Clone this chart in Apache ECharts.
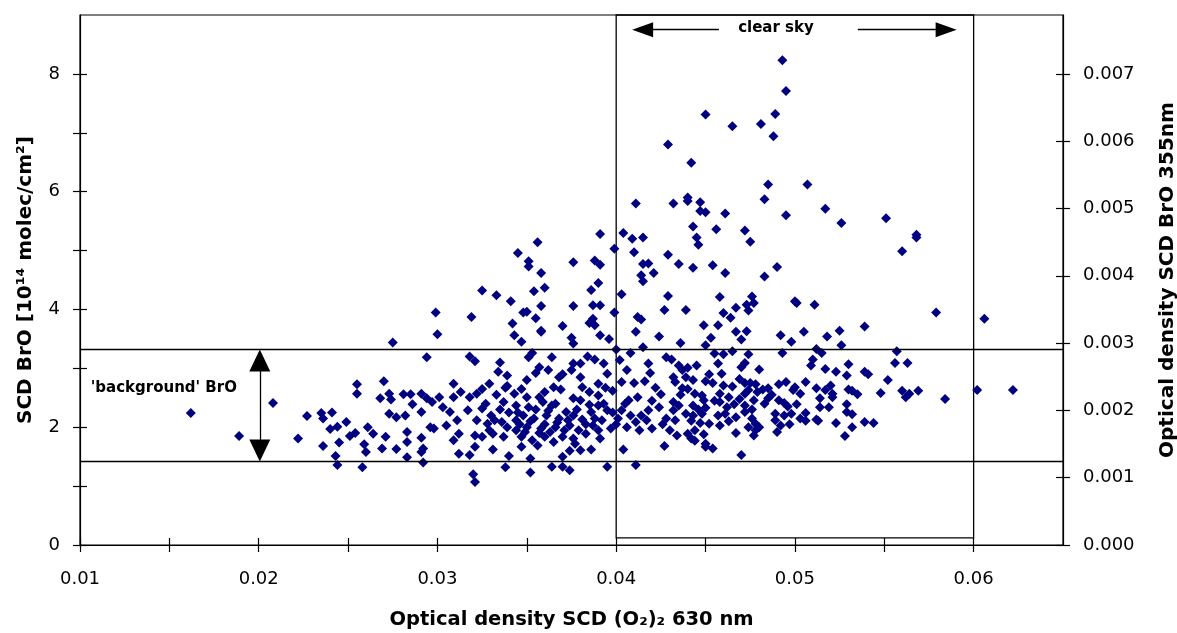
<!DOCTYPE html>
<html>
<head>
<meta charset="utf-8">
<script src="https://cdn.jsdelivr.net/npm/echarts@6/dist/echarts.min.js"></script>
<style>
html,body{margin:0;padding:0;background:#fff;overflow:hidden;}
#chart{width:1177px;height:633px;}
</style>
</head>
<body>
<div id="chart"></div>
<script>
// ---- data: [O2O2 optical density, SCD BrO (1e14 molec/cm2)] ----
const pointsLeft = [
[0.0162,2.24],[0.0189,1.85],[0.0208,2.41],[0.0227,2.19],[0.0222,1.81],[0.0235,2.24],[0.0236,2.15],[0.0241,2.25],
[0.0255,2.73],[0.0255,2.57],[0.0249,2.09],[0.0240,1.97],[0.0244,2.01],[0.0245,1.74],[0.0236,1.68],[0.0243,1.51],
[0.0244,1.36],[0.0258,1.32],[0.0251,1.85],[0.0254,1.90],[0.0259,1.71],[0.0260,1.58],[0.0261,2.00]
];
const pointsMidLeft = [
[0.0300,3.58],[0.0343,3.56],[0.0275,3.44],[0.0294,3.19],[0.0318,3.20],[0.0321,3.12],[0.0335,3.10],[0.0334,2.94],
[0.0339,2.88],[0.0270,2.78],[0.0309,2.74],[0.0329,2.74],[0.0325,2.65],[0.0338,2.67],[0.0273,2.57],[0.0268,2.49],
[0.0274,2.47],[0.0281,2.56],[0.0285,2.56],[0.0291,2.57],[0.0294,2.49],[0.0297,2.43],[0.0301,2.51],[0.0309,2.51],
[0.0313,2.60],[0.0318,2.51],[0.0322,2.57],[0.0286,2.39],[0.0303,2.34],[0.0282,2.20],[0.0273,2.23],[0.0277,2.17],
[0.0291,2.26],[0.0307,2.26],[0.0317,2.29],[0.0325,2.32],[0.0337,2.43],[0.0343,2.57],[0.0344,2.37],[0.0322,2.12],
[0.0311,2.12],[0.0305,2.03],[0.0296,2.00],[0.0298,1.98],[0.0328,2.06],[0.0332,2.12],[0.0336,2.09],[0.0264,1.89],
[0.0271,1.84],[0.0283,1.92],[0.0283,1.75],[0.0291,1.82],[0.0309,1.78],[0.0312,1.89],[0.0321,1.86],[0.0325,1.84],
[0.0331,1.89],[0.0337,1.84],[0.0269,1.64],[0.0277,1.63],[0.0291,1.58],[0.0292,1.64],[0.0312,1.55],[0.0318,1.53],
[0.0321,1.67],[0.0331,1.62],[0.0283,1.49],[0.0292,1.40],[0.0340,1.51],[0.0338,1.32],[0.0320,1.20],[0.0321,1.07],
[0.0344,2.12],[0.0344,1.95]
];
const pointsMid = [
[0.0358,3.62],[0.0375,3.52],[0.0376,3.42],[0.0391,3.56],[0.0396,3.50],[0.0411,3.62],[0.0424,3.54],[0.0347,3.45],
[0.0353,3.26],[0.0351,3.19],[0.0364,3.19],[0.0384,3.20],[0.0388,3.15],[0.0400,3.32],[0.0402,3.14],[0.0408,3.26],
[0.0415,3.36],[0.0428,3.19],[0.0418,3.08],[0.0357,3.02],[0.0355,2.92],[0.0362,2.97],[0.0376,3.08],[0.0380,3.08],
[0.0393,3.08],[0.0395,2.91],[0.0406,2.97],[0.0419,2.92],[0.0370,2.90],[0.0375,2.97],[0.0380,2.85],[0.0350,2.80],
[0.0365,2.68],[0.0369,2.64],[0.0381,2.68],[0.0390,2.74],[0.0394,2.67],[0.0403,2.77],[0.0410,2.75],[0.0416,2.78],
[0.0422,2.67],[0.0425,2.56],[0.0347,2.65],[0.0350,2.51],[0.0357,2.51],[0.0376,2.49],[0.0380,2.46],[0.0390,2.54],
[0.0407,2.46],[0.0412,2.51],[0.0351,2.34],[0.0359,2.43],[0.0364,2.37],[0.0372,2.26],[0.0386,2.26],[0.0390,2.37],
[0.0395,2.29],[0.0403,2.29],[0.0408,2.20],[0.0418,2.29],[0.0424,2.34],[0.0348,2.20],[0.0354,2.15],[0.0361,2.20],
[0.0368,2.15],[0.0376,2.20],[0.0381,2.13],[0.0392,2.12],[0.0401,2.15],[0.0411,2.09],[0.0417,2.12],[0.0428,2.15],
[0.0350,2.00],[0.0358,1.98],[0.0366,2.00],[0.0374,2.03],[0.0379,1.95],[0.0387,2.03],[0.0390,1.95],[0.0397,1.98],
[0.0406,2.00],[0.0413,1.95],[0.0420,1.98],[0.0347,1.84],[0.0353,1.78],[0.0360,1.84],[0.0365,1.75],[0.0370,1.84],
[0.0376,1.81],[0.0383,1.89],[0.0391,1.81],[0.0377,1.72],[0.0347,1.67],[0.0356,1.69],[0.0374,1.60],[0.0380,1.61],
[0.0386,1.62],[0.0370,1.50],[0.0404,1.62],[0.0427,1.68],[0.0352,1.47],[0.0364,1.33],[0.0370,1.33],[0.0374,1.27],
[0.0395,1.33],[0.0411,1.36],[0.0352,1.23]
];
const pointsMidRight = [
[0.0453,3.52],[0.0467,3.62],[0.0473,3.63],[0.0470,3.49],[0.0492,3.56],[0.0505,3.62],[0.0498,3.45],[0.0436,3.43],
[0.0450,3.39],[0.0455,3.25],[0.0460,3.24],[0.0465,3.29],[0.0474,3.24],[0.0493,3.26],[0.0512,3.33],[0.0510,3.15],
[0.0509,3.05],[0.0431,3.15],[0.0457,3.08],[0.0459,2.91],[0.0470,3.02],[0.0472,3.09],[0.0480,2.98],[0.0435,3.05],
[0.0440,3.01],[0.0445,3.05],[0.0437,2.97],[0.0432,2.85],[0.0433,2.77],[0.0439,2.85],[0.0443,2.80],[0.0450,2.78],
[0.0454,2.75],[0.0460,2.71],[0.0465,2.69],[0.0469,2.82],[0.0472,2.75],[0.0475,2.75],[0.0478,2.73],[0.0474,2.63],
[0.0479,2.60],[0.0482,2.64],[0.0485,2.66],[0.0491,2.73],[0.0495,2.77],[0.0500,2.68],[0.0506,2.77],[0.0503,2.57],
[0.0499,2.63],[0.0512,2.66],[0.0437,2.66],[0.0444,2.57],[0.0448,2.54],[0.0458,2.57],[0.0463,2.51],[0.0472,2.57],
[0.0477,2.46],[0.0485,2.49],[0.0491,2.46],[0.0494,2.41],[0.0501,2.39],[0.0432,2.43],[0.0435,2.37],[0.0443,2.37],
[0.0449,2.46],[0.0450,2.33],[0.0458,2.43],[0.0462,2.34],[0.0466,2.39],[0.0472,2.37],[0.0432,2.29],[0.0439,2.23],
[0.0443,2.20],[0.0448,2.23],[0.0457,2.20],[0.0461,2.23],[0.0467,2.17],[0.0472,2.26],[0.0489,2.23],[0.0494,2.20],
[0.0498,2.23],[0.0506,2.24],[0.0512,2.13],[0.0506,2.11],[0.0433,2.12],[0.0442,2.11],[0.0447,2.07],[0.0452,2.06],
[0.0458,2.03],[0.0476,2.15],[0.0478,2.06],[0.0474,2.00],[0.0480,2.00],[0.0489,2.12],[0.0492,2.03],[0.0430,1.95],
[0.0434,1.86],[0.0440,1.89],[0.0444,1.95],[0.0449,1.88],[0.0467,1.90],[0.0477,1.86],[0.0490,1.92],[0.0442,1.81],
[0.0444,1.77],[0.0450,1.72],[0.0450,1.67],[0.0454,1.64],[0.0470,1.53]
];
const pointsDenseCore = [
[0.0345,2.25],[0.0346,2.05],[0.0349,1.92],[0.0352,2.10],[0.0355,2.30],[0.0357,1.90],[0.0360,2.05],[0.0362,2.28],
[0.0363,1.92],[0.0366,2.40],[0.0367,2.08],[0.0371,1.95],[0.0373,2.12],[0.0378,2.30],[0.0383,2.05],[0.0385,2.38],
[0.0388,2.15],[0.0393,2.40],[0.0398,2.25],[0.0400,2.05],[0.0340,2.25],[0.0335,2.30],[0.0330,2.20],[0.0327,2.40],
[0.0333,2.55],[0.0339,2.70],[0.0339,2.00],[0.0329,1.95],[0.0405,2.40],[0.0414,2.20],[0.0420,2.45],[0.0426,2.05],
[0.0436,2.55],[0.0446,2.30],[0.0455,2.45],[0.0463,2.10],[0.0469,2.48],[0.0476,2.30],[0.0478,1.95],[0.0483,2.40],
[0.0487,2.55],[0.0496,2.35],[0.0503,2.15],[0.0497,2.05],[0.0440,2.65],[0.0452,2.90],[0.0368,2.85],[0.0360,2.60],
[0.0385,2.60],[0.0398,2.62]
];
const pointsRight = [
[0.0560,4.99],[0.0579,3.95],[0.0606,3.84],[0.0539,3.71],[0.0518,3.54],[0.0525,3.64],[0.0526,3.39],[0.0515,3.26],
[0.0557,3.29],[0.0556,3.09],[0.0563,3.09],[0.0530,3.07],[0.0517,2.99],[0.0523,2.94],[0.0529,2.88],[0.0539,2.94],
[0.0541,2.90],[0.0552,2.80],[0.0520,2.71],[0.0517,2.63],[0.0521,2.57],[0.0530,2.64],[0.0532,2.62],[0.0535,2.56],
[0.0548,2.58],[0.0560,2.62],[0.0562,2.51],[0.0564,2.57],[0.0569,2.62],[0.0584,2.48],[0.0602,2.63],[0.0622,2.63],
[0.0521,2.51],[0.0529,2.39],[0.0529,2.26],[0.0532,2.22],[0.0514,2.49],[0.0514,2.34],[0.0519,2.34],[0.0513,2.11],
[0.0523,2.07],[0.0532,2.00],[0.0539,2.09],[0.0544,2.07],[0.0528,1.85]
];
const pointsUpper = [
[0.0391,5.28],[0.0356,5.14],[0.0399,5.03],[0.0345,4.96],[0.0351,4.82],[0.0351,4.73],[0.0376,4.80],[0.0388,4.83],
[0.0391,4.76],[0.0358,4.62],[0.0390,4.45],[0.0386,4.33],[0.0325,4.32],[0.0333,4.24],[0.0360,4.37],[0.0354,4.31],
[0.0341,4.14],[0.0358,4.06],[0.0376,4.06],[0.0387,4.07],[0.0391,4.07],[0.0299,3.95],[0.0319,3.87],[0.0348,3.95],
[0.0350,3.96],[0.0355,3.85],[0.0342,3.76],[0.0370,3.72],[0.0385,3.77],[0.0387,3.84],[0.0388,3.73],[0.0399,3.95],
[0.0358,3.64],
[0.0493,8.23],[0.0495,7.71],[0.0450,7.31],[0.0489,7.32],[0.0465,7.11],[0.0481,7.15],[0.0488,6.94],[0.0429,6.80],
[0.0442,6.49],[0.0485,6.12],[0.0507,6.12],[0.0483,5.87],[0.0411,5.80],[0.0432,5.80],[0.0440,5.90],[0.0440,5.84],
[0.0447,5.82],[0.0447,5.67],[0.0450,5.65],[0.0461,5.63],[0.0495,5.60],[0.0517,5.71],[0.0526,5.47],[0.0551,5.55],
[0.0443,5.41],[0.0456,5.36],[0.0472,5.34],[0.0475,5.15],[0.0445,5.22],[0.0446,5.10],[0.0404,5.30],[0.0409,5.20],
[0.0415,5.22],[0.0410,4.97],[0.0429,4.93],[0.0435,4.77],[0.0443,4.71],[0.0454,4.75],[0.0461,4.62],[0.0490,4.72],
[0.0483,4.56],[0.0568,5.27],[0.0568,5.22],[0.0415,4.77],[0.0418,4.78],[0.0421,4.62],[0.0414,4.58],
[0.0415,4.48],[0.0403,4.26],[0.0429,4.23],[0.0427,3.99],[0.0439,3.99],[0.0458,4.21],[0.0460,3.94],[0.0464,3.86],
[0.0467,4.03],[0.0473,4.08],[0.0476,4.22],[0.0477,4.11],[0.0474,3.98],[0.0500,4.14],[0.0501,4.11],[0.0511,4.08],
[0.0412,3.87],[0.0414,3.83],[0.0449,3.73],[0.0457,3.73]
];

// ---- ticks and labels ----
const xTickValues = [0.01,0.015,0.02,0.025,0.03,0.035,0.04,0.045,0.05,0.055,0.06];
const xLabelValues = [0.01,0.02,0.03,0.04,0.05,0.06];
const yLeftTickValues = [0,1,2,3,4,5,6,7,8];
const yLeftLabelValues = [0,2,4,6,8];
const yRightTickValues = [0,0.001,0.002,0.003,0.004,0.005,0.006,0.007];

// ---- axis extents and annotations ----
const xRange = [0.01, 0.065];
const yLeftRange = [0, 9];
const yRightRange = [0, 0.007875];
const backgroundBand = [1.42, 3.32];
const clearSkyRange = [0.04, 0.06];
const clearSkyBottom = 0.12;
const arrowY = 8.75;
const backgroundArrowX = 0.02006;

const allPoints = [].concat(pointsLeft, pointsMidLeft, pointsMid, pointsDenseCore, pointsMidRight, pointsRight, pointsUpper);

const FONT = '"DejaVu Sans", Arial, sans-serif';
const chart = echarts.init(document.getElementById('chart'));

function xAxisDef(inside) {
  return {
    type: 'value', position: 'bottom', gridIndex: 0,
    min: xRange[0], max: xRange[1], interval: 0.005,
    axisLine: {show: !inside, onZero: false, lineStyle: {color: '#000', width: 1.2}},
    axisTick: {show: true, inside: inside, length: 7, customValues: xTickValues, lineStyle: {color: '#000', width: 1.2}},
    splitLine: {show: false},
    axisLabel: inside ? {show: false} : {
      show: true, margin: 25, color: '#000', fontSize: 18, fontFamily: FONT,
      customValues: xLabelValues, formatter: v => v.toFixed(2)
    },
    name: inside ? '' : 'Optical density SCD (O\u2082)\u2082 630 nm',
    nameLocation: 'middle', nameGap: 65, nameMoveOverlap: false,
    nameTextStyle: {color: '#000', fontSize: 19.5, fontWeight: 'bold', fontFamily: FONT}
  };
}
function yLeftDef(inside) {
  return {
    type: 'value', position: 'left', gridIndex: 0,
    min: yLeftRange[0], max: yLeftRange[1], interval: 1,
    axisLine: {show: !inside, onZero: false, lineStyle: {color: '#000', width: 1.2}},
    axisTick: {show: true, inside: inside, length: 7, customValues: yLeftTickValues, lineStyle: {color: '#000', width: 1.2}},
    splitLine: {show: false},
    axisLabel: inside ? {show: false} : {
      show: true, margin: 20, color: '#000', fontSize: 18, fontFamily: FONT,
      customValues: yLeftLabelValues, formatter: v => String(v)
    },
    name: inside ? '' : 'SCD BrO [10\u00b9\u2074 molec/cm\u00b2]',
    nameLocation: 'middle', nameGap: 44, nameMoveOverlap: false,
    nameTextStyle: {color: '#000', fontSize: 20, fontWeight: 'bold', fontFamily: FONT}
  };
}
function yRightDef(inside) {
  return {
    type: 'value', position: 'right', gridIndex: 0,
    min: yRightRange[0], max: yRightRange[1], interval: 0.001,
    axisLine: {show: !inside, onZero: false, lineStyle: {color: '#000', width: 1.2}},
    axisTick: {show: true, inside: inside, length: 7, customValues: yRightTickValues, lineStyle: {color: '#000', width: 1.2}},
    splitLine: {show: false},
    axisLabel: inside ? {show: false} : {
      show: true, margin: 20, color: '#000', fontSize: 18, fontFamily: FONT,
      customValues: yRightTickValues, formatter: v => v.toFixed(3)
    },
    name: inside ? '' : 'Optical density SCD BrO 355nm',
    nameLocation: 'middle', nameGap: 95, nameMoveOverlap: false,
    nameTextStyle: {color: '#000', fontSize: 20, fontWeight: 'bold', fontFamily: FONT}
  };
}

const lineStyle = {color: '#000', width: 1.3, type: 'solid'};

const option = {
  backgroundColor: '#fff',
  animation: false,
  grid: {left: 80, right: 114, top: 15, bottom: 88, outerBoundsMode: 'none', containLabel: false,
         show: true, borderColor: '#000', borderWidth: 1.2, backgroundColor: 'transparent'},
  xAxis: [xAxisDef(false), xAxisDef(true)],
  yAxis: [yLeftDef(false), yRightDef(false), yLeftDef(true), yRightDef(true)],
  series: [
    {
      type: 'scatter', xAxisIndex: 0, yAxisIndex: 0,
      data: allPoints, symbol: 'diamond', symbolSize: 10,
      itemStyle: {color: '#000080', opacity: 1},
      silent: true, z: 3,
      markArea: {
        silent: true,
        itemStyle: {color: 'rgba(0,0,0,0)', borderColor: '#000', borderWidth: 1.3},
        data: [[{coord: [clearSkyRange[0], clearSkyBottom]}, {coord: [clearSkyRange[1], yLeftRange[1]]}]]
      },
      markLine: {
        silent: true, animation: false,
        label: {show: false}, lineStyle: lineStyle,
        symbol: ['none', 'none'],
        data: [
          {yAxis: backgroundBand[1], symbol: 'none'},
          {yAxis: backgroundBand[0], symbol: 'none'},
          // arrowhead centres sit half an arrowhead inside the band edges
          [{coord: [backgroundArrowX, 3.134], symbol: 'triangle', symbolSize: [21, 22]},
           {coord: [backgroundArrowX, 1.606], symbol: 'triangle', symbolSize: [21, 22]}],
          [{coord: [0.04575, arrowY], symbol: 'none'},
           {coord: [0.04148, arrowY], symbol: 'triangle', symbolSize: [15, 21]}],
          [{coord: [0.05352, arrowY], symbol: 'none'},
           {coord: [0.05846, arrowY], symbol: 'triangle', symbolSize: [15, 21]}]
        ]
      },
      markPoint: {
        silent: true, symbol: 'rect', symbolSize: 1,
        itemStyle: {color: 'rgba(0,0,0,0)'},
        label: {show: true, position: 'inside', color: '#000', fontSize: 15, fontWeight: 'bold', fontFamily: FONT,
                formatter: p => p.name},
        data: [
          {name: 'clear sky', coord: [0.04894, 8.78]},
          {name: "'background' BrO", coord: [0.01469, 2.66]}
        ]
      }
    }
  ]
};
chart.setOption(option);
</script>
</body>
</html>
